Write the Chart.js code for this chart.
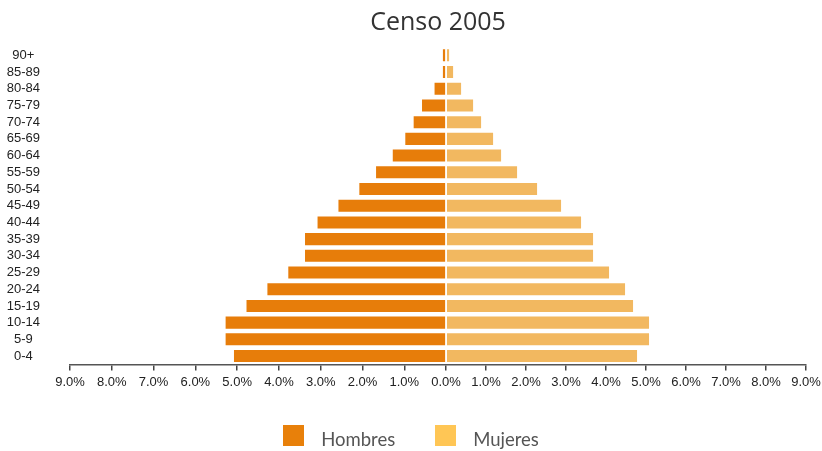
<!DOCTYPE html>
<html>
<head>
<meta charset="utf-8">
<script src="https://cdn.jsdelivr.net/npm/chart.js@4/dist/chart.umd.min.js"></script>
<style>
  html, body { margin: 0; padding: 0; background: #fff; }
  #wrap { position: relative; width: 822px; height: 451px; }
  #legend {
    position: absolute; left: 0; top: 425px; width: 822px;
    display: flex; justify-content: center; gap: 40px;
    font-family: Lato, sans-serif; font-size: 18.5px; color: #555;
  }
  .item { display: flex; align-items: flex-start; }
  .swatch { width: 21px; height: 21px; margin-right: 17px; }
  .item span { line-height: 21px; position: relative; top: 4px; }
</style>
</head>
<body>
<div id="wrap">
  <canvas id="pyramid" width="822" height="451"></canvas>
  <div id="legend"></div>
</div>
<script>
// age groups, bottom to top
const ageGroups = ['0-4', '5-9', '10-14', '15-19', '20-24', '25-29', '30-34', '35-39', '40-44',
    '45-49', '50-54', '55-59', '60-64', '65-69', '70-74', '75-79', '80-84', '85-89', '90+'];
// % of total population
const hombres = [5.1, 5.3, 5.3, 4.8, 4.3, 3.8, 3.4, 3.4, 3.1, 2.6, 2.1, 1.7, 1.3, 1.0, 0.8, 0.6, 0.3, 0.1, 0.1];
const mujeres = [4.8, 5.1, 5.1, 4.7, 4.5, 4.1, 3.7, 3.7, 3.4, 2.9, 2.3, 1.8, 1.4, 1.2, 0.9, 0.7, 0.4, 0.2, 0.1];
const seriesNames = ['Hombres', 'Mujeres'];
const xTicks = [-9, -8, -7, -6, -5, -4, -3, -2, -1, 0, 1, 2, 3, 4, 5, 6, 7, 8, 9];

const barColors = ['#e77d0a', '#f2b860'];
const swatchColors = ['#e8800a', '#ffc655'];

// the original chart uses a separate scale for each side, so zero is not centred
const ZERO_AT = 0.511;

class SplitScale extends Chart.LinearScale {
    zeroPixel() {
        return this.left + this.width * ZERO_AT;
    }
    getPixelForValue(value) {
        const z = this.zeroPixel();
        if (value < 0) return z - (value / this.min) * (z - this.left);
        return z + (value / this.max) * (this.right - z);
    }
    getValueForPixel(pixel) {
        const z = this.zeroPixel();
        if (pixel < z) return (z - pixel) / (z - this.left) * this.min;
        return (pixel - z) / (this.right - z) * this.max;
    }
}
SplitScale.id = 'split';
SplitScale.defaults = Chart.LinearScale.defaults;
Chart.register(SplitScale);

const tickFont = { family: '"Liberation Sans", Arial, sans-serif', size: 13 };

const ctx = document.getElementById('pyramid').getContext('2d');
const chart = new Chart(ctx, {
    type: 'bar',
    data: {
        labels: ageGroups,
        datasets: [{
            label: seriesNames[0],
            data: hombres.map(v => -v),
            backgroundColor: barColors[0],
            borderColor: 'rgba(255, 255, 255, 0.45)',
            borderWidth: 1,
            barPercentage: 0.84,
            categoryPercentage: 1
        }, {
            label: seriesNames[1],
            data: mujeres,
            backgroundColor: barColors[1],
            borderColor: 'rgba(255, 255, 255, 0.45)',
            borderWidth: 1,
            barPercentage: 0.84,
            categoryPercentage: 1
        }]
    },
    options: {
        indexAxis: 'y',
        responsive: false,
        animation: false,
        layout: { padding: { top: 0, right: 16, bottom: 57, left: 0 } },
        plugins: {
            legend: { display: false },
            tooltip: { enabled: false },
            title: {
                display: true,
                text: 'Censo 2005',
                fullSize: false,
                color: '#333',
                font: { family: '"Open Sans", sans-serif', size: 25, weight: 'normal' },
                padding: { top: 8, bottom: 9 }
            }
        },
        scales: {
            x: {
                type: 'split',
                stacked: true,
                min: -9,
                max: 9,
                afterBuildTicks: s => { s.ticks = xTicks.map(v => ({ value: v })); },
                afterFit: s => { s.paddingRight = 0; },
                ticks: {
                    autoSkip: false,
                    maxRotation: 0,
                    padding: 4,
                    color: '#222',
                    font: tickFont,
                    callback: v => Math.abs(v).toFixed(1) + '%'
                },
                grid: {
                    drawOnChartArea: false,
                    tickLength: 6,
                    color: '#444',
                    lineWidth: 1.5
                },
                border: { color: '#555', width: 1.5 }
            },
            y: {
                stacked: true,
                reverse: true,
                afterFit: s => { s.width = 70; },
                ticks: {
                    autoSkip: false,
                    crossAlign: 'center',
                    padding: 30,
                    color: '#222',
                    font: tickFont
                },
                grid: { display: false, drawTicks: false },
                border: { display: false }
            }
        }
    }
});

// legend
const legend = document.getElementById('legend');
seriesNames.forEach((name, i) => {
    const item = document.createElement('div');
    item.className = 'item';
    item.innerHTML = '<div class="swatch" style="background:' + swatchColors[i] + '"></div><span>' + name + '</span>';
    legend.appendChild(item);
});
</script>
</body>
</html>
